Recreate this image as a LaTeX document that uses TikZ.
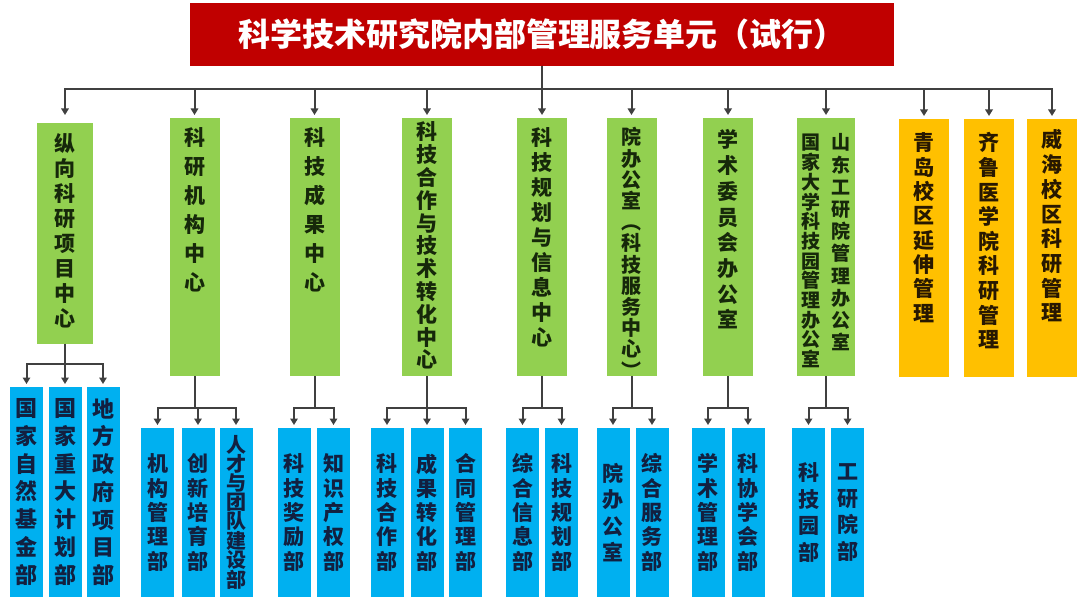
\documentclass[tikz,border=0pt]{standalone}
\usepackage{fontspec}
\setmainfont{Noto Sans CJK SC}
\usetikzlibrary{arrows.meta}
\definecolor{titlered}{RGB}{192,0,0}
\definecolor{centregreen}{RGB}{146,208,80}
\definecolor{deptblue}{RGB}{0,176,240}
\definecolor{campusgold}{RGB}{255,192,0}
\definecolor{linkgrey}{RGB}{64,64,64}
\definecolor{greentext}{RGB}{22,40,10}
\definecolor{bluetext}{RGB}{18,32,64}
\definecolor{goldtext}{RGB}{40,24,0}
\lineskiplimit=-\maxdimen
% one column of characters: size, pitch, text
\newcommand{\vcol}[3]{\parbox[t]{#1pt}{\centering\fontsize{#1}{#2}\selectfont #3}}
\tikzstyle{unit}=[inner sep=0, outer sep=0, anchor=north, font=\bfseries]
\tikzstyle{centre}=[unit, fill=centregreen, text=greentext, minimum width=50pt, text height=28pt, text depth=230pt]
\tikzstyle{campus}=[unit, fill=campusgold, text=goldtext, minimum width=50pt, text height=32pt, text depth=226pt]
\tikzstyle{dept}=[unit, fill=deptblue, text=bluetext, minimum width=33pt, minimum height=169pt]
\tikzstyle{branchline}=[draw=linkgrey, line width=2pt, -{Triangle[length=6.5pt,width=7.5pt]}, shorten >=3pt]
\tikzstyle{orgchart}=[x=1pt, y=-1pt]

\begin{document}
\begin{tikzpicture}[orgchart]
    \useasboundingbox (0,0) rectangle (1080,604);
    \node[unit, anchor=center, fill=titlered, text=white, minimum width=704pt, minimum height=63pt,
          font=\bfseries\fontsize{32}{32}\selectfont] (title) at (542,34.5) {科学技术研究院内部管理服务单元（试行）};
    % centres
    \node[centre, minimum width=56pt, text height=29pt, text depth=192pt] (g1) at (65,123) {\vcol{21}{25}{纵\\向\\科\\研\\项\\目\\中\\心}};
    \node[centre] (g2) at (194.5,118) {\vcol{21}{29}{科\\研\\机\\构\\中\\心}};
    \node[centre] (g3) at (314.5,118) {\vcol{21}{29}{科\\技\\成\\果\\中\\心}};
    \node[centre, text height=22pt, text depth=236pt] (g4) at (427,118) {\vcol{21}{22.8}{科\\技\\合\\作\\与\\技\\术\\转\\化\\中\\心}};
    \node[centre] (g5) at (542,118) {\vcol{21}{25}{科\\技\\规\\划\\与\\信\\息\\中\\心}};
    \node[centre, text height=27pt, text depth=231pt] (g6) at (631.5,118) {\vcol{20}{21.2}{院\\办\\公\\室\\︵\\科\\技\\服\\务\\中\\心\\︶}};
    \node[centre, text height=30pt, text depth=228pt] (g7) at (728,118) {\vcol{21}{25.7}{学\\术\\委\\员\\会\\办\\公\\室}};
    \node[centre, minimum width=58pt, text height=32pt, text depth=226pt] (g8) at (826,118)
        {\vcol{19}{19.7}{国\\家\\大\\学\\科\\技\\园\\管\\理\\办\\公\\室}\hspace{11pt}\vcol{19}{22.2}{山\\东\\工\\研\\院\\管\\理\\办\\公\\室}};
    \node[campus] (o1) at (924,119) {\vcol{21}{24.3}{青\\岛\\校\\区\\延\\伸\\管\\理}};
    \node[campus] (o2) at (989,119) {\vcol{21}{24.6}{齐\\鲁\\医\\学\\院\\科\\研\\管\\理}};
    \node[campus, text height=29pt, text depth=229pt] (o3) at (1052,119) {\vcol{21}{24.7}{威\\海\\校\\区\\科\\研\\管\\理}};
    % departments
    \node[dept, minimum height=210pt] (b11) at (26.5,387) {\vcol{22}{27.7}{国\\家\\自\\然\\基\\金\\部}};
    \node[dept, minimum height=210pt] (b12) at (65,387) {\vcol{22}{27.7}{国\\家\\重\\大\\计\\划\\部}};
    \node[dept, minimum height=210pt] (b13) at (103,387) {\vcol{22}{27.7}{地\\方\\政\\府\\项\\目\\部}};
    \node[dept] (b21) at (157.5,428) {\vcol{21}{24.3}{机\\构\\管\\理\\部}};
    \node[dept] (b22) at (198,428) {\vcol{21}{24.3}{创\\新\\培\\育\\部}};
    \node[dept] (b23) at (236,428) {\vcol{20}{19}{人\\才\\与\\团\\队\\建\\设\\部}};
    \node[dept] (b31) at (294,428) {\vcol{21}{24.3}{科\\技\\奖\\励\\部}};
    \node[dept] (b32) at (333.5,428) {\vcol{21}{24.3}{知\\识\\产\\权\\部}};
    \node[dept] (b41) at (387,428) {\vcol{21}{24.3}{科\\技\\合\\作\\部}};
    \node[dept] (b42) at (427,428) {\vcol{21}{24.3}{成\\果\\转\\化\\部}};
    \node[dept] (b43) at (465.5,428) {\vcol{21}{24.3}{合\\同\\管\\理\\部}};
    \node[dept] (b51) at (522.5,428) {\vcol{21}{24.3}{综\\合\\信\\息\\部}};
    \node[dept] (b52) at (561.5,428) {\vcol{21}{24.3}{科\\技\\规\\划\\部}};
    \node[dept] (b61) at (613,428) {\vcol{21}{26.5}{院\\办\\公\\室}};
    \node[dept] (b62) at (652,428) {\vcol{21}{24.3}{综\\合\\服\\务\\部}};
    \node[dept] (b71) at (708,428) {\vcol{21}{24.3}{学\\术\\管\\理\\部}};
    \node[dept] (b72) at (748,428) {\vcol{21}{24.3}{科\\协\\学\\会\\部}};
    \node[dept] (b81) at (808.5,428) {\vcol{21}{26.5}{科\\技\\园\\部}};
    \node[dept] (b82) at (847.5,428) {\vcol{21}{26.5}{工\\研\\院\\部}};
    % title to centres
    \draw[branchline, shorten >=8pt] (title.south) -- ++(0,23) -| (g1.north);
    \draw[branchline] (title.south) -- ++(0,23) -| (g2.north);
    \draw[branchline] (title.south) -- ++(0,23) -| (g3.north);
    \draw[branchline] (title.south) -- ++(0,23) -| (g4.north);
    \draw[branchline] (title.south) -- ++(0,23) -| (g5.north);
    \draw[branchline] (title.south) -- ++(0,23) -| (g6.north);
    \draw[branchline] (title.south) -- ++(0,23) -| (g7.north);
    \draw[branchline] (title.south) -- ++(0,23) -| (g8.north);
    \draw[branchline] (title.south) -- ++(0,23) -| (o1.north);
    \draw[branchline] (title.south) -- ++(0,23) -| (o2.north);
    \draw[branchline] (title.south) -- ++(0,23) -| (o3.north);
    % centres to departments
    \draw[branchline] (g1.south) -- ++(0,20) -| (b11.north);
    \draw[branchline] (g1.south) -- ++(0,20) -| (b12.north);
    \draw[branchline] (g1.south) -- ++(0,20) -| (b13.north);
    \draw[branchline] (g2.south) -- ++(0,32) -| (b21.north);
    \draw[branchline] (g2.south) -- ++(0,32) -| (b22.north);
    \draw[branchline] (g2.south) -- ++(0,32) -| (b23.north);
    \draw[branchline] (g3.south) -- ++(0,32) -| (b31.north);
    \draw[branchline] (g3.south) -- ++(0,32) -| (b32.north);
    \draw[branchline] (g4.south) -- ++(0,32) -| (b41.north);
    \draw[branchline] (g4.south) -- ++(0,32) -| (b42.north);
    \draw[branchline] (g4.south) -- ++(0,32) -| (b43.north);
    \draw[branchline] (g5.south) -- ++(0,32) -| (b51.north);
    \draw[branchline] (g5.south) -- ++(0,32) -| (b52.north);
    \draw[branchline] (g6.south) -- ++(0,32) -| (b61.north);
    \draw[branchline] (g6.south) -- ++(0,32) -| (b62.north);
    \draw[branchline] (g7.south) -- ++(0,32) -| (b71.north);
    \draw[branchline] (g7.south) -- ++(0,32) -| (b72.north);
    \draw[branchline] (g8.south) -- ++(0,32) -| (b81.north);
    \draw[branchline] (g8.south) -- ++(0,32) -| (b82.north);
\end{tikzpicture}
\end{document}
